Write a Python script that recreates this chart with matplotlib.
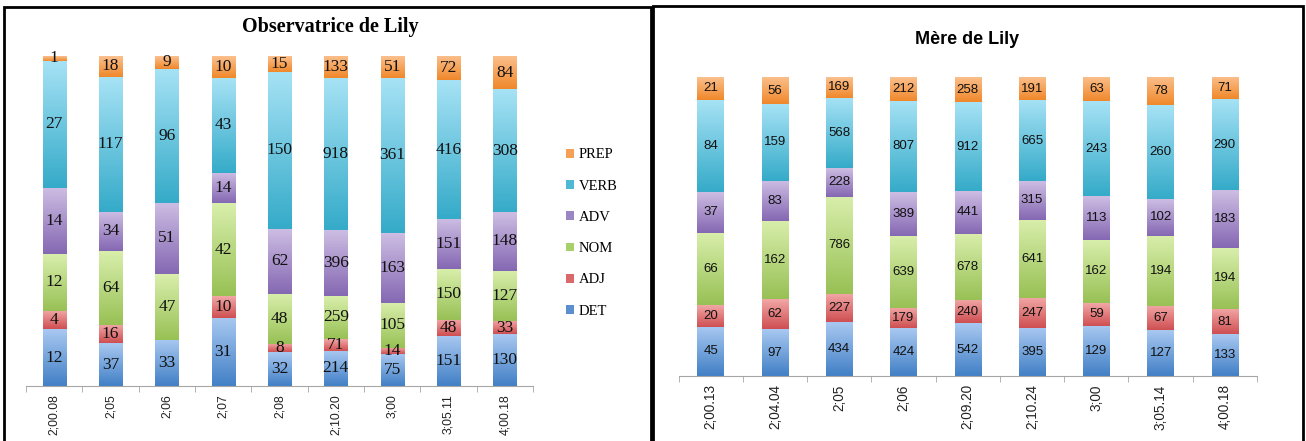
import numpy as np
import matplotlib
matplotlib.use('Agg')
from matplotlib import pyplot as plt
from matplotlib.patches import Rectangle, Patch
from matplotlib.colors import LinearSegmentedColormap

# Data
series = ['DET', 'ADJ', 'NOM', 'ADV', 'VERB', 'PREP']

obs_ages = ['2;00.08', '2;05', '2;06', '2;07', '2;08', '2;10.20', '3;00', '3;05.11', '4;00.18']
obs_det = [12, 37, 33, 31, 32, 214, 75, 151, 130]
obs_adj = [4, 16, 0, 10, 8, 71, 14, 48, 33]
obs_nom = [12, 64, 47, 42, 48, 259, 105, 150, 127]
obs_adv = [14, 34, 51, 14, 62, 396, 163, 151, 148]
obs_verb = [27, 117, 96, 43, 150, 918, 361, 416, 308]
obs_prep = [1, 18, 9, 10, 15, 133, 51, 72, 84]

mere_ages = ['2;00.13', '2;04.04', '2;05', '2;06', '2;09.20', '2;10.24', '3;00', '3;05.14', '4;00.18']
mere_det = [45, 97, 434, 424, 542, 395, 129, 127, 133]
mere_adj = [20, 62, 227, 179, 240, 247, 59, 67, 81]
mere_nom = [66, 162, 786, 639, 678, 641, 162, 194, 194]
mere_adv = [37, 83, 228, 389, 441, 315, 113, 102, 183]
mere_verb = [84, 159, 568, 807, 912, 665, 243, 260, 290]
mere_prep = [21, 56, 169, 212, 258, 191, 63, 78, 71]

# gradient colours (bottom, top) and a mid colour for the legend
grad = {
    'DET': ('#4280c6', '#a8c8f1'),
    'ADJ': ('#cf4f52', '#f2a7a6'),
    'NOM': ('#98c155', '#d8eeab'),
    'ADV': ('#8568b3', '#cdbde3'),
    'VERB': ('#35abc9', '#a6e2f5'),
    'PREP': ('#f0882b', '#fbc08d'),
}
legend_col = {'DET': '#5b8fd0', 'ADJ': '#d9686a', 'NOM': '#a9cf6a',
              'ADV': '#9b85c2', 'VERB': '#4fb8d4', 'PREP': '#f6a055'}

W, H = 1306, 441
fig = plt.figure(figsize=(W / 100, H / 100), dpi=100)


def px_axes(x0, x1, ytop, ybot):
    return fig.add_axes([x0 / W, 1 - ybot / H, (x1 - x0) / W, (ybot - ytop) / H])


def draw_chart(ax, ages, cols, lab_font, lab_size, tick_font, tick_size):
    data = np.array(cols, dtype=float)
    frac = data / data.sum(axis=0)
    x = np.arange(len(ages))
    bottom = np.zeros(len(ages))
    g = np.linspace(0, 1, 64).reshape(-1, 1)
    for i, name in enumerate(series):
        bars = ax.bar(x, frac[i], 0.41, bottom=bottom, color='none', linewidth=0)
        cmap = LinearSegmentedColormap.from_list(name, list(grad[name]))
        for b in bars:
            if b.get_height() <= 0:
                continue
            bx, by = b.get_x(), b.get_y()
            im = ax.imshow(g, extent=[bx, bx + b.get_width(), by, by + b.get_height()],
                           origin='lower', aspect='auto', cmap=cmap, vmin=0, vmax=1,
                           interpolation='bilinear')
            im.set_clip_path(b)
        for j in range(len(ages)):
            if data[i, j] > 0:
                ax.text(x[j], bottom[j] + frac[i, j] / 2, str(int(data[i, j])),
                        ha='center', va='center', fontsize=lab_size,
                        family=lab_font, color='#111111')
        bottom += frac[i]
    ax.set_xlim(-0.5, len(ages) - 0.5)
    ax.set_ylim(0, 1)
    ax.set_aspect('auto')
    for s in ['top', 'right', 'left']:
        ax.spines[s].set_visible(False)
    ax.spines['bottom'].set_color('#a6a6a6')
    ax.set_yticks([])
    ax.set_xticks(x)
    ax.set_xticklabels(ages, rotation=90, fontsize=tick_size, family=tick_font, color='#222222')
    ax.tick_params(axis='x', which='major', length=0, pad=6)
    ax.set_xticks(np.arange(len(ages) + 1) - 0.5, minor=True)
    ax.tick_params(axis='x', which='minor', length=4, color='#a6a6a6')


# left chart
ax1 = px_axes(26, 533, 56, 386)
draw_chart(ax1, obs_ages, [obs_det, obs_adj, obs_nom, obs_adv, obs_verb, obs_prep],
           'Liberation Serif', 12.5, 'Liberation Sans', 8.8)
fig.text(330 / W, 1 - 27 / H, 'Observatrice de Lily', ha='center', va='center',
         fontsize=14.5, fontweight='bold', family='Liberation Serif')
handles = [Patch(facecolor=legend_col[s], edgecolor='none') for s in series[::-1]]
fig.legend(handles, series[::-1], loc='center left', bbox_to_anchor=(553 / W, 1 - 233 / H),
           frameon=False, handlelength=0.55, handleheight=0.55, handletextpad=0.3,
           labelspacing=1.25, prop={'family': 'Liberation Serif', 'size': 10.5})

# right chart
ax2 = px_axes(678.5, 1257, 77, 376)
draw_chart(ax2, mere_ages, [mere_det, mere_adj, mere_nom, mere_adv, mere_verb, mere_prep],
           'Liberation Sans', 9.5, 'Liberation Sans', 9.8)
fig.text(967 / W, 1 - 39 / H, 'Mère de Lily', ha='center', va='center',
         fontsize=13, fontweight='bold', family='Liberation Sans')

# panel frames
fig.patches.append(Rectangle((4 / W, -0.1), 647 / W, 1.1 - 7 / H, transform=fig.transFigure,
                             fill=False, edgecolor='black', linewidth=2))
fig.patches.append(Rectangle((653 / W, -0.1), 650 / W, 1.1 - 6 / H, transform=fig.transFigure,
                             fill=False, edgecolor='black', linewidth=2))

plt.savefig('out.png', dpi=100)
